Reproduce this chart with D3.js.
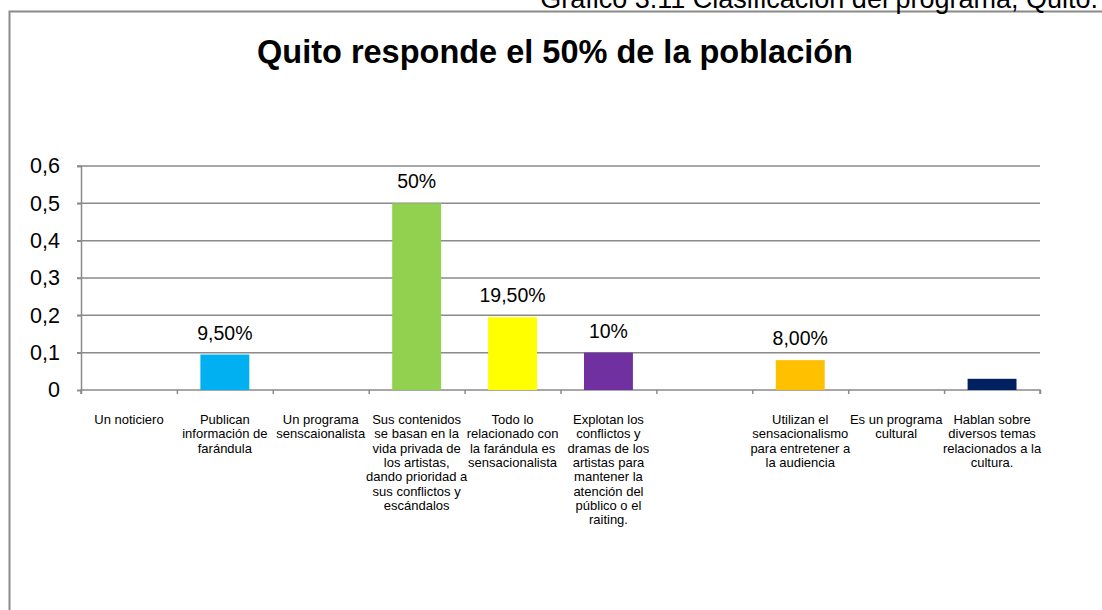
<!DOCTYPE html>
<html>
<head>
<meta charset="utf-8">
<script src="https://cdn.jsdelivr.net/npm/d3@7"></script>
<style>
  body { margin: 0; background: #fff; }
  svg { display: block; font-family: "Liberation Sans", Arial, sans-serif; }
</style>
</head>
<body>
<div id="chart"></div>
<script>
// categories (label lines as they wrap in the original)
const categories = [
  ["Un noticiero"],
  ["Publican", "información de", "farándula"],
  ["Un programa", "senscaionalista"],
  ["Sus contenidos", "se basan en la", "vida privada de", "los artistas,", "dando prioridad a", "sus conflictos y", "escándalos"],
  ["Todo lo", "relacionado con", "la farándula es", "sensacionalista"],
  ["Explotan los", "conflictos y", "dramas de los", "artistas para", "mantener la", "atención del", "público o el", "raiting."],
  [""],
  ["Utilizan el", "sensacionalismo", "para entretener a", "la audiencia"],
  ["Es un programa", "cultural"],
  ["Hablan sobre", "diversos temas", "relacionados a la", "cultura."]
];
const values = [0, 0.095, 0, 0.5, 0.195, 0.10, 0, 0.08, 0, 0.03];
const valueLabels = ["", "9,50%", "", "50%", "19,50%", "10%", "", "8,00%", "", ""];
const barColors = ["#00B0F0", "#00B0F0", "#92D050", "#92D050", "#FFFF00", "#7030A0", "#7030A0", "#FFC000", "#002060", "#002060"];
const yTicks = [0, 0.1, 0.2, 0.3, 0.4, 0.5, 0.6];

const W = 1102, H = 610;
const margin = {top: 166, left: 81, right: 62, bottom: 220};
const width = W - margin.left - margin.right,
      height = H - margin.top - margin.bottom;

const svg = d3.select("#chart").append("svg")
  .attr("width", W)
  .attr("height", H);

// outer chart frame (cut off at right and bottom like the source)
svg.append("rect")
  .attr("x", 9.5).attr("y", 11.5)
  .attr("width", 1200).attr("height", 800)
  .attr("fill", "none")
  .attr("stroke", "#8a8a8a")
  .attr("stroke-width", 2);

svg.append("text")
  .attr("x", 1098).attr("y", 8)
  .attr("text-anchor", "end")
  .style("font-size", "27px")
  .text("Gráfico 3.11 Clasificación del programa, Quito.");

svg.append("text")
  .attr("x", 555).attr("y", 63)
  .attr("text-anchor", "middle")
  .style("font-size", "32.5px")
  .style("font-weight", "bold")
  .text("Quito responde el 50% de la población");

const g = svg.append("g").attr("transform", `translate(${margin.left},${margin.top})`);

const x = d3.scaleBand()
  .domain(d3.range(categories.length))
  .range([0, width])
  .padding(0);

const y = d3.scaleLinear()
  .domain([0, 0.6])
  .range([height, 0]);

// gridlines
g.append("g")
  .selectAll("line")
  .data(yTicks.slice(1))
  .join("line")
  .attr("x1", -4).attr("x2", width)
  .attr("y1", d => y(d)).attr("y2", d => y(d))
  .attr("stroke", "#8a8a8a")
  .attr("stroke-width", 1.5);

// y axis
const yAxis = g.append("g")
  .call(d3.axisLeft(y).tickValues(yTicks).tickSize(4).tickPadding(17)
    .tickFormat(d => d === 0 ? "0" : d3.format(".1f")(d).replace(".", ",")));
yAxis.select(".domain").attr("stroke", "#8a8a8a").attr("stroke-width", 1.5);
yAxis.selectAll(".tick line").attr("stroke", "#8a8a8a").attr("stroke-width", 1.5);
yAxis.selectAll(".tick text")
  .style("font-size", "21.5px")
  .style("font-family", "Liberation Sans, Arial, sans-serif")
  .attr("fill", "#000");

// x axis
const xAxis = g.append("g")
  .attr("transform", `translate(0,${height})`)
  .call(d3.axisBottom(d3.scaleLinear().domain([0, categories.length]).range([0, width]))
    .ticks(categories.length).tickSize(4).tickFormat(""));
xAxis.select(".domain").attr("stroke", "#8a8a8a").attr("stroke-width", 1.5)
  .attr("d", `M0,4V0H${width}V4`);
xAxis.selectAll(".tick line").attr("stroke", "#8a8a8a").attr("stroke-width", 1.5);

// bars
const barW = x.bandwidth() * 0.51;
const data = values.map((v, i) => ({i, v, label: valueLabels[i], color: barColors[i]}));

g.selectAll(".bar")
  .data(data.filter(d => d.v > 0))
  .join("rect")
  .attr("class", "bar")
  .attr("x", d => x(d.i) + (x.bandwidth() - barW) / 2)
  .attr("y", d => y(d.v))
  .attr("width", barW)
  .attr("height", d => height - y(d.v))
  .attr("fill", d => d.color);

g.selectAll(".vlabel")
  .data(data.filter(d => d.label))
  .join("text")
  .attr("class", "vlabel")
  .attr("x", d => x(d.i) + x.bandwidth() / 2)
  .attr("y", d => y(d.v) - 15)
  .attr("text-anchor", "middle")
  .style("font-size", "19.5px")
  .text(d => d.label);

// category labels
const cat = g.selectAll(".cat")
  .data(categories)
  .join("text")
  .attr("class", "cat")
  .attr("text-anchor", "middle")
  .attr("transform", (d, i) => `translate(${x(i) + x.bandwidth() / 2},${height + 34})`)
  .style("font-size", "13px");

cat.selectAll("tspan")
  .data(d => d)
  .join("tspan")
  .attr("x", 0)
  .attr("y", (d, i) => i * 14.3)
  .text(d => d);
</script>
</body>
</html>
